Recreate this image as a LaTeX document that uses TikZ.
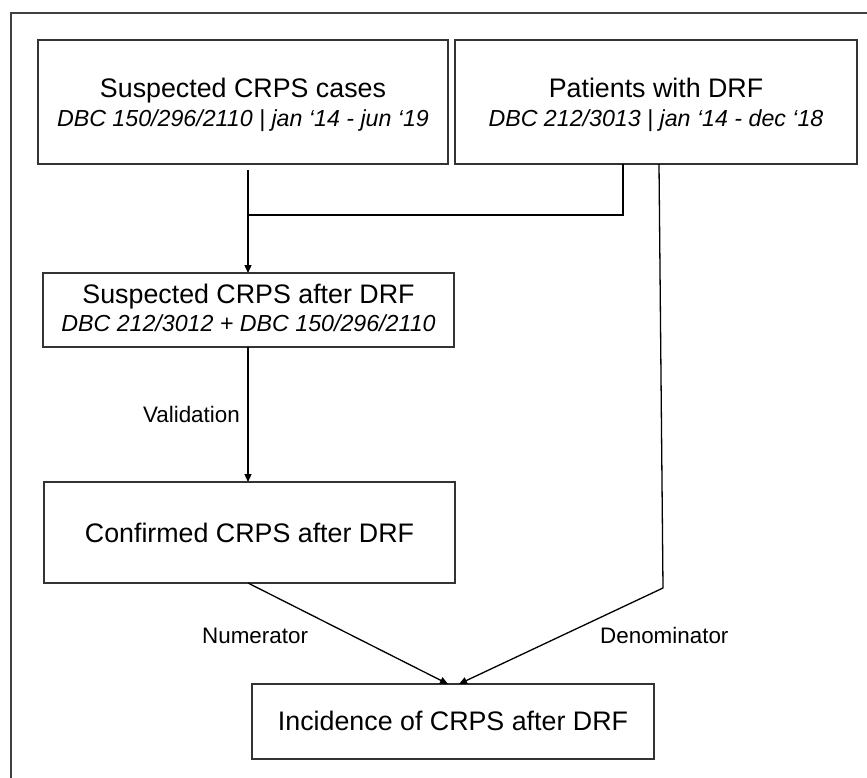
\documentclass[tikz,border=0pt]{standalone}
\usepackage{fontspec}
\setmainfont{Liberation Sans}
\usetikzlibrary{arrows.meta}
\begin{document}
\begin{tikzpicture}[x=1pt,y=-1pt,
  box/.style={draw=black!80, line width=1.7pt, inner sep=0pt},
  maintxt/.style={font=\fontsize{26.8}{30}\selectfont, inner sep=0pt, anchor=base},
  subtxt/.style={font=\fontsize{23.2}{27}\selectfont\itshape, inner sep=0pt, anchor=base},
  conn/.style={draw=black, line width=1.3pt},
  arr/.style={conn, -{Triangle[length=8pt,width=7pt]}},
  lab/.style={font=\fontsize{22.4}{26}\selectfont, inner sep=0pt},
  frameline/.style={draw=black!75, line width=1.3pt}]
\useasboundingbox (0,0) rectangle (867,778);
% outer frame (cropped on right and bottom)
\coordinate (ftl) at (11,13);
\coordinate (ftr) at (867,13);
\coordinate (fbl) at (11,778);
\draw[frameline] (ftr) -- (ftl) -- (fbl);
% boxes
\node[box, minimum width=410pt, minimum height=124pt] (A) at (243,102) {};
\node[box, minimum width=402pt, minimum height=124pt] (B) at (656,102) {};
\node[box, minimum width=411pt, minimum height=74pt] (C) at (248.5,310) {};
\node[box, minimum width=411pt, minimum height=101pt] (D) at (249.5,532.5) {};
\node[box, minimum width=402pt, minimum height=75pt] (E) at (453,721.5) {};
% texts
\node[maintxt] (A1) at (243,98) {Suspected CRPS cases};
\node[subtxt] (A2) at (243,127) {DBC 150/296/2110 | jan ‘14 - jun ‘19};
\node[maintxt] (B1) at (656,98) {Patients with DRF};
\node[subtxt] (B2) at (656,127) {DBC 212/3013 | jan ‘14 - dec ‘18};
\node[maintxt] (C1) at (248.5,303) {Suspected CRPS after DRF};
\node[subtxt] (C2) at (248.5,331) {DBC 212/3012 + DBC 150/296/2110};
\node[maintxt] (D1) at (249.5,542) {Confirmed CRPS after DRF};
\node[maintxt] (E1) at (453,730) {Incidence of CRPS after DRF};
% labels
\node[lab, anchor=base east] (Lval) at (240,422) {Validation};
\node[lab, anchor=base west] (Lnum) at (202,643) {Numerator};
\node[lab, anchor=base west] (Lden) at (600,643) {Denominator};
% connector coordinates
\coordinate (aTop) at (248,170);
\coordinate (merge) at (248,215);
\coordinate (bOut1) at (623,164);
\coordinate (bMerge) at (623,215);
\coordinate (bOut2) at (659,164);
\coordinate (bBend) at (663,588);
\coordinate (cIn) at (248,273);
\coordinate (cOut) at (248,347);
\coordinate (dIn) at (248,482);
\coordinate (dOut) at (248,583);
\coordinate (eIn1) at (448,684);
\coordinate (eIn2) at (459,684);
% connectors
\draw[conn] (aTop) -- (merge);
\draw[conn] (bOut1) -- (bMerge) -- (merge);
\draw[arr] (merge) -- (cIn);
\draw[arr] (cOut) -- (dIn);
\draw[arr] (dOut) -- (eIn1);
\draw[arr] (bOut2) -- (bBend) -- (eIn2);
\end{tikzpicture}
\end{document}
